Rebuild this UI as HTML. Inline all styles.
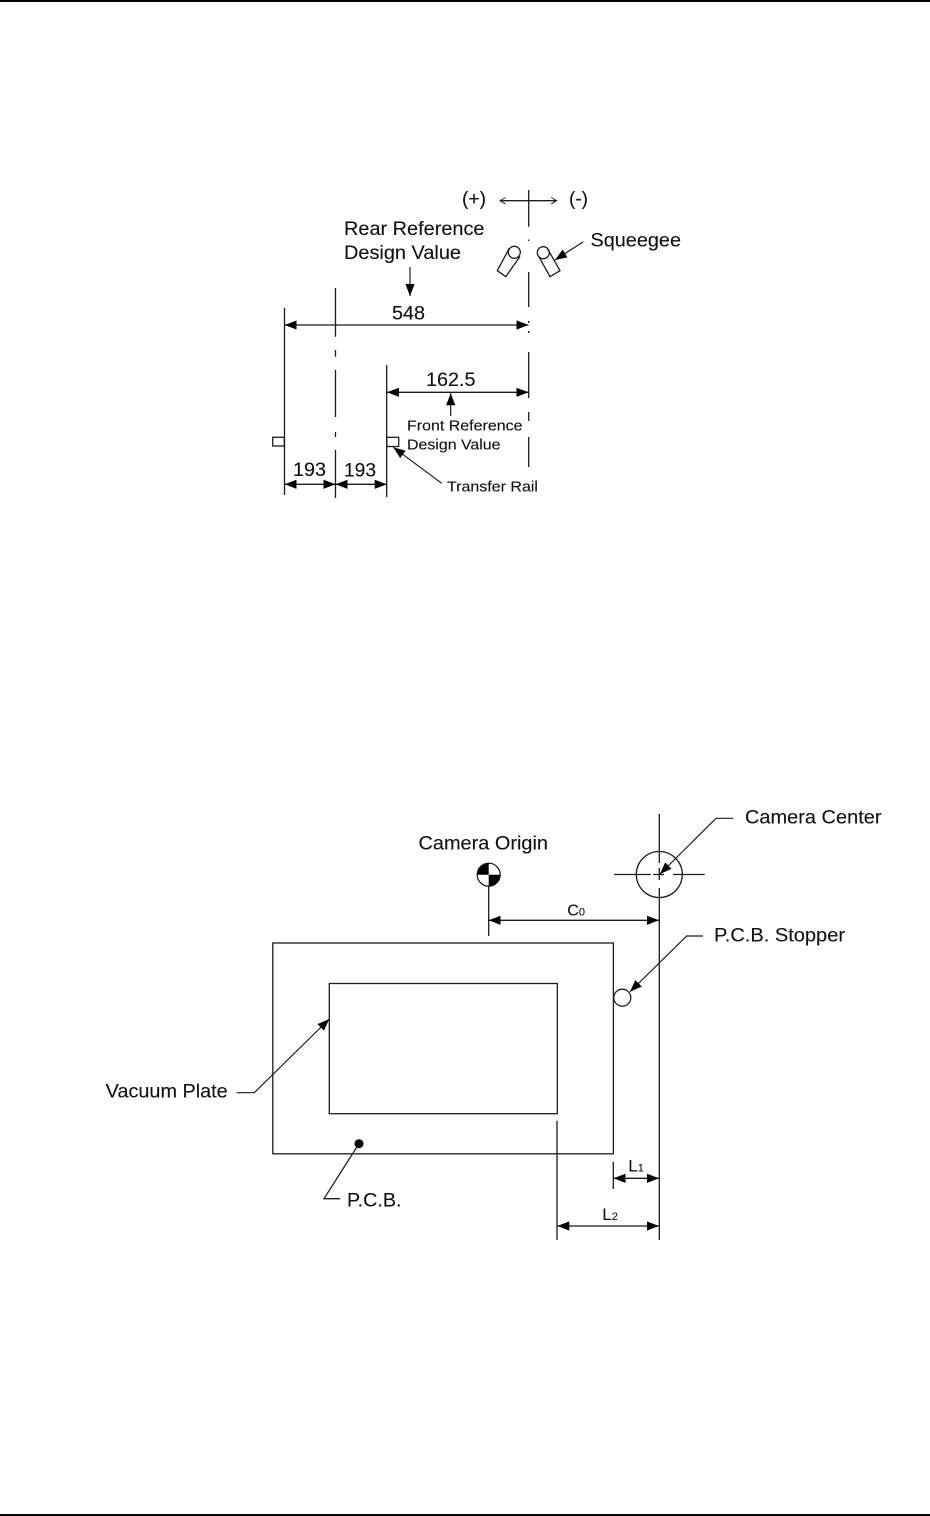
<!DOCTYPE html>
<html><head><meta charset="utf-8"><style>
html,body{margin:0;padding:0;background:#fff}
svg{display:block}
text{font-family:"Liberation Sans",sans-serif;fill:#111;stroke:#111;stroke-width:.12}
.l{fill:none;stroke:#1c1c1c;stroke-width:1.3}
.d{fill:none;stroke:#1c1c1c;stroke-width:1.3;marker-start:url(#a);marker-end:url(#a)}
.e{fill:none;stroke:#1c1c1c;stroke-width:1.2;marker-end:url(#a)}
</style></head><body>
<svg width="930" height="1516" viewBox="0 0 930 1516" xmlns="http://www.w3.org/2000/svg">
<defs>
<marker id="a" markerUnits="userSpaceOnUse" markerWidth="13" markerHeight="11" refX="12" refY="5" orient="auto-start-reverse"><path d="M0 .4L12 5L0 9.6Z" fill="#000"/></marker>
<marker id="o" markerUnits="userSpaceOnUse" markerWidth="8" markerHeight="8" refX="6.5" refY="4" orient="auto-start-reverse"><path d="M1 .8L6.5 4L1 7.2" fill="none" stroke="#222" stroke-width="1"/></marker>
</defs>
<rect x="0" y="0" width="930" height="2" fill="#000"/>
<rect x="0" y="1514" width="930" height="2" fill="#000"/>

<!-- top diagram -->
<path class="l" d="M528.7 190V226.7M528.7 239.5V241M528.7 272V307M528.7 321V323M528.7 331V333M528.7 352V398M528.7 412V421M528.7 437V467"/>
<path class="l" style="marker-start:url(#o);marker-end:url(#o)" d="M500 200.7H556.7"/>
<path class="l" d="M284.5 308V495M335.5 288V336.7M335.5 350V356.7M335.5 370V417M335.5 432V437M335.5 450V498M386.7 365V497"/>
<path class="d" d="M284.7 325H528.5"/>
<path class="d" d="M387 392.3H528.5"/>
<path class="d" d="M284.7 484.3H335.5"/>
<path class="d" d="M335.5 484.3H386.7"/>
<path class="e" d="M410 267V296"/>
<path class="e" d="M450.7 416V393.3"/>
<path class="e" d="M583.3 241.7L555 260"/>
<path class="e" d="M441.7 483.3L393.3 447.3"/>
<rect class="l" x="272.7" y="437.3" width="11.6" height="8.7"/>
<rect class="l" x="386.7" y="437.3" width="12" height="9.2"/>
<circle class="l" cx="514.3" cy="252.3" r="6"/>
<circle class="l" cx="543.3" cy="252.7" r="6"/>
<path class="l" d="M509.3 248.3L497.3 270.7L505.7 276.7L520 256.5"/>
<path class="l" d="M538.3 255.5L550 276.7L560 270.7L547.3 248.3"/>
<text x="462" y="205" font-size="19" textLength="24" lengthAdjust="spacingAndGlyphs">(+)</text>
<text x="569" y="205" font-size="19" textLength="19" lengthAdjust="spacingAndGlyphs">(-)</text>
<text x="344" y="235" font-size="19" textLength="140.5" lengthAdjust="spacingAndGlyphs">Rear Reference</text>
<text x="344" y="259" font-size="19" textLength="117" lengthAdjust="spacingAndGlyphs">Design Value</text>
<text x="590.5" y="246.7" font-size="19" textLength="90.5" lengthAdjust="spacingAndGlyphs">Squeegee</text>
<text x="392" y="319.3" font-size="19" textLength="33" lengthAdjust="spacingAndGlyphs">548</text>
<text x="426" y="386" font-size="19" textLength="49.5" lengthAdjust="spacingAndGlyphs">162.5</text>
<text x="407" y="430.7" font-size="15" textLength="115.5" lengthAdjust="spacingAndGlyphs">Front Reference</text>
<text x="407" y="449.5" font-size="15" textLength="93.5" lengthAdjust="spacingAndGlyphs">Design Value</text>
<text x="293" y="476" font-size="19" textLength="33" lengthAdjust="spacingAndGlyphs">193</text>
<text x="344" y="476.7" font-size="19" textLength="32" lengthAdjust="spacingAndGlyphs">193</text>
<text x="447" y="491.7" font-size="14.5" textLength="91" lengthAdjust="spacingAndGlyphs">Transfer Rail</text>

<!-- bottom diagram -->
<rect class="l" x="272.8" y="943" width="340.6" height="210.8"/>
<rect class="l" x="329.3" y="983.5" width="228" height="130.2"/>
<path class="l" d="M659.3 814V863M659.3 868V880M659.3 888V1240M614 874.5H650.7M653 874.5H664M673 874.5H704.7M557 1120.7V1240M613.3 1161.7V1189M488.7 886V936"/>
<circle class="l" cx="659.3" cy="874.5" r="23"/>
<circle cx="488.7" cy="874.7" r="11.5" fill="#fff" stroke="#111" stroke-width="1.2"/>
<path d="M488.7 874.7V863.2A11.5 11.5 0 0 0 477.2 874.7ZM488.7 874.7V886.2A11.5 11.5 0 0 0 500.2 874.7Z" fill="#000"/>
<path class="d" d="M488.7 920.3H659"/>
<path class="d" d="M613.5 1178.3H659"/>
<path class="d" d="M557.3 1226H659"/>
<path class="e" d="M733 818.3H716L660 874"/>
<path class="e" d="M703 936H686.7L630 991.7"/>
<path class="e" d="M236.7 1092.7H254.3L329.3 1019"/>
<path class="l" d="M340 1198.7H324L359 1143.7"/>
<circle cx="359" cy="1143.7" r="4.5" fill="#000"/>
<circle cx="622.3" cy="997.7" r="8.5" fill="#fff" stroke="#222" stroke-width="1.3"/>
<text x="745" y="823.3" font-size="19" textLength="136.5" lengthAdjust="spacingAndGlyphs">Camera Center</text>
<text x="418.5" y="849.3" font-size="19" textLength="129.5" lengthAdjust="spacingAndGlyphs">Camera Origin</text>
<text x="714" y="941.7" font-size="19" textLength="131" lengthAdjust="spacingAndGlyphs">P.C.B. Stopper</text>
<text x="105.7" y="1097.3" font-size="19" textLength="122" lengthAdjust="spacingAndGlyphs">Vacuum Plate</text>
<text x="347" y="1206.7" font-size="19" textLength="54.5" lengthAdjust="spacingAndGlyphs">P.C.B.</text>
<text x="567.3" y="915.7" font-size="16">C<tspan font-size="11">0</tspan></text>
<text x="628.3" y="1171.7" font-size="17">L<tspan font-size="11">1</tspan></text>
<text x="602.3" y="1220" font-size="17">L<tspan font-size="11">2</tspan></text>
</svg>
</body></html>
